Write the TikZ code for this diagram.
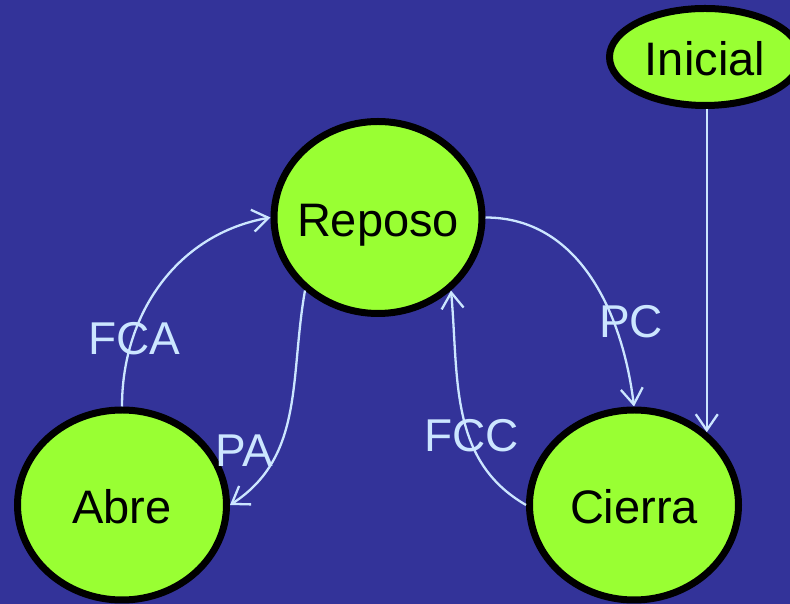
\documentclass[tikz,border=0pt]{standalone}
\usepackage{fontspec}
\setmainfont{Liberation Sans}
\usetikzlibrary{shapes.geometric,arrows.meta}
\definecolor{bgblue}{RGB}{51,51,153}
\definecolor{stategreen}{RGB}{153,255,51}
\definecolor{linkblue}{RGB}{204,230,255}
\begin{document}
\begin{tikzpicture}[x=1pt,y=1pt,
  state/.style={ellipse, draw=black, line width=7pt, fill=stategreen, inner sep=0pt,
    minimum width=209pt, minimum height=190pt, font=\fontsize{47}{50}\selectfont,
    text height=38pt, text depth=0pt},
  lab/.style={text=linkblue, font=\fontsize{46}{50}\selectfont, inner sep=0pt, anchor=base},
  link/.style={draw=linkblue, line width=2.3pt, -{Straight Barb[length=16pt,width=22pt]}}]
\fill[bgblue] (0,0) rectangle (790,604);
\useasboundingbox (0,0) rectangle (790,604);
\node[state, minimum width=208pt, minimum height=192pt] (reposo) at (378,386.5) {\makebox[0pt]{Reposo}};
\node[state] (abre) at (122,99) {\makebox[0pt]{Abre}};
\node[state] (cierra) at (634,99) {\makebox[0pt]{Cierra}};
\node[state, minimum width=191pt, minimum height=97pt] (inicial) at (705,547) {\makebox[0pt]{Inicial}};
\node[lab] (fca) at (134,249) {FCA};
\node[lab] (pa) at (244.5,137) {PA};
\node[lab] (pc) at (631,266) {PC};
\node[lab] (fcc) at (471.5,152) {FCC};
\draw[link] (abre.north) to[out=90,in=190] (reposo.west);
\draw[link] (reposo.225) to[out=260,in=33] (abre.east);
\draw[link] (reposo.east) to[out=0,in=97] (cierra.north);
\draw[link] (cierra.west) to[out=150,in=275] (reposo.315);
\draw[link] (inicial.south -| cierra.45) -- (cierra.45);
\end{tikzpicture}
\end{document}
